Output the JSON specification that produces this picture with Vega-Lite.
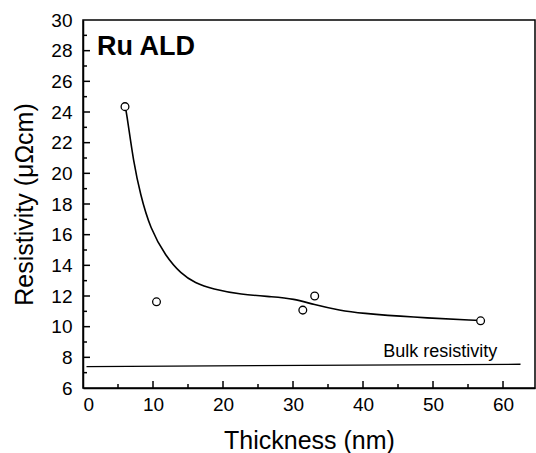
{
  "$schema": "https://vega.github.io/schema/vega-lite/v6.json",
  "width": 452,
  "height": 368,
  "autosize": {"type": "none"},
  "padding": {"left": 83, "top": 20, "right": 1, "bottom": 65},
  "background": "white",
  "config": {
    "font": "Liberation Sans",
    "view": {"stroke": "black", "strokeWidth": 1.5},
    "axis": {"grid": false, "domainColor": "black", "domainWidth": 1.5, "labelColor": "black", "titleColor": "black", "titleFontWeight": "normal", "labelFontSize": 19, "titleFontSize": 25}
  },
  "datasets": {
    "pts": [
      {"t": 6.0, "r": 24.35},
      {"t": 10.5, "r": 11.62},
      {"t": 31.4, "r": 11.08},
      {"t": 33.1, "r": 12.0},
      {"t": 56.8, "r": 10.38}
    ],
    "curve": [
      {"t": 6.1, "r": 24.2},
      {"t": 6.4, "r": 23.4},
      {"t": 7.2, "r": 20.8},
      {"t": 8.2, "r": 18.6},
      {"t": 9.6, "r": 16.4},
      {"t": 11.8, "r": 14.6},
      {"t": 14.0, "r": 13.45},
      {"t": 16.0, "r": 12.85},
      {"t": 18.5, "r": 12.45},
      {"t": 22.5, "r": 12.1},
      {"t": 27.2, "r": 11.95},
      {"t": 30.1, "r": 11.82},
      {"t": 32.9, "r": 11.45},
      {"t": 36.8, "r": 11.05},
      {"t": 39.6, "r": 10.88},
      {"t": 46.8, "r": 10.62},
      {"t": 56.8, "r": 10.4}
    ],
    "bulk": [
      {"t": 0.5, "r": 7.4},
      {"t": 62.5, "r": 7.55}
    ],
    "labels": [
      {"t": 2.0, "r": 27.75, "txt": "Ru ALD", "kind": "title"},
      {"t": 42.9, "r": 8.0, "txt": "Bulk resistivity", "kind": "note"}
    ],
    "xticks": [
      {"v": 10, "k": "major"}, {"v": 20, "k": "major"}, {"v": 30, "k": "major"}, {"v": 40, "k": "major"}, {"v": 50, "k": "major"}, {"v": 60, "k": "major"},
      {"v": 5, "k": "minor"}, {"v": 15, "k": "minor"}, {"v": 25, "k": "minor"}, {"v": 35, "k": "minor"}, {"v": 45, "k": "minor"}, {"v": 55, "k": "minor"}
    ],
    "yticks": [
      {"v": 8, "k": "major"}, {"v": 10, "k": "major"}, {"v": 12, "k": "major"}, {"v": 14, "k": "major"}, {"v": 16, "k": "major"}, {"v": 18, "k": "major"}, {"v": 20, "k": "major"}, {"v": 22, "k": "major"}, {"v": 24, "k": "major"}, {"v": 26, "k": "major"}, {"v": 28, "k": "major"},
      {"v": 7, "k": "minor"}, {"v": 9, "k": "minor"}, {"v": 11, "k": "minor"}, {"v": 13, "k": "minor"}, {"v": 15, "k": "minor"}, {"v": 17, "k": "minor"}, {"v": 19, "k": "minor"}, {"v": 21, "k": "minor"}, {"v": 23, "k": "minor"}, {"v": 25, "k": "minor"}, {"v": 27, "k": "minor"}, {"v": 29, "k": "minor"}
    ]
  },
  "resolve": {"axis": {"x": "independent", "y": "independent"}},
  "layer": [
    {
      "data": {"name": "curve"},
      "mark": {"type": "line", "interpolate": "basis", "color": "black", "strokeWidth": 1.6},
      "encoding": {
        "x": {"field": "t", "type": "quantitative", "scale": {"domain": [0, 64.57], "nice": false, "zero": false},
          "axis": {"orient": "bottom", "values": [0, 10, 20, 30, 40, 50, 60], "ticks": false, "labelPadding": 7, "title": "Thickness (nm)", "titleBaseline": "alphabetic", "titleY": 60}},
        "y": {"field": "r", "type": "quantitative", "scale": {"domain": [6, 30], "nice": false, "zero": false},
          "axis": {"orient": "left", "values": [6, 8, 10, 12, 14, 16, 18, 20, 22, 24, 26, 28, 30], "ticks": false, "labelPadding": 11, "title": "Resistivity (μΩcm)", "titleBaseline": "alphabetic", "titleX": -51}}
      }
    },
    {
      "data": {"name": "bulk"},
      "mark": {"type": "line", "color": "black", "strokeWidth": 1.3},
      "encoding": {
        "x": {"field": "t", "type": "quantitative", "axis": null},
        "y": {"field": "r", "type": "quantitative", "axis": null}
      }
    },
    {
      "data": {"name": "pts"},
      "mark": {"type": "point", "shape": "circle", "filled": false, "fill": "white", "fillOpacity": 1, "stroke": "black", "strokeWidth": 1.3, "size": 60, "opacity": 1},
      "encoding": {
        "x": {"field": "t", "type": "quantitative", "axis": null},
        "y": {"field": "r", "type": "quantitative", "axis": null}
      }
    },
    {
      "data": {"name": "labels"},
      "transform": [{"filter": "datum.kind === 'title'"}],
      "mark": {"type": "text", "align": "left", "baseline": "alphabetic", "fontSize": 27, "fontWeight": "bold", "color": "black"},
      "encoding": {
        "x": {"field": "t", "type": "quantitative", "axis": null},
        "y": {"field": "r", "type": "quantitative", "axis": null},
        "text": {"field": "txt"}
      }
    },
    {
      "data": {"name": "labels"},
      "transform": [{"filter": "datum.kind === 'note'"}],
      "mark": {"type": "text", "align": "left", "baseline": "alphabetic", "fontSize": 18, "color": "black"},
      "encoding": {
        "x": {"field": "t", "type": "quantitative", "axis": null},
        "y": {"field": "r", "type": "quantitative", "axis": null},
        "text": {"field": "txt"}
      }
    },
    {
      "data": {"name": "xticks"},
      "transform": [{"filter": "datum.k === 'major'"}],
      "mark": {"type": "tick", "orient": "vertical", "size": 7, "thickness": 1.5, "color": "black", "opacity": 1, "yOffset": -3.5},
      "encoding": {
        "x": {"field": "v", "type": "quantitative", "axis": null},
        "y": {"datum": 6, "type": "quantitative", "axis": null}
      }
    },
    {
      "data": {"name": "xticks"},
      "transform": [{"filter": "datum.k === 'minor'"}],
      "mark": {"type": "tick", "orient": "vertical", "size": 4, "thickness": 1.5, "color": "black", "opacity": 1, "yOffset": -2},
      "encoding": {
        "x": {"field": "v", "type": "quantitative", "axis": null},
        "y": {"datum": 6, "type": "quantitative", "axis": null}
      }
    },
    {
      "data": {"name": "yticks"},
      "transform": [{"filter": "datum.k === 'major'"}],
      "mark": {"type": "tick", "orient": "horizontal", "size": 7, "thickness": 1.5, "color": "black", "opacity": 1, "xOffset": 3.5},
      "encoding": {
        "y": {"field": "v", "type": "quantitative", "axis": null},
        "x": {"datum": 0, "type": "quantitative", "axis": null}
      }
    },
    {
      "data": {"name": "yticks"},
      "transform": [{"filter": "datum.k === 'minor'"}],
      "mark": {"type": "tick", "orient": "horizontal", "size": 4, "thickness": 1.5, "color": "black", "opacity": 1, "xOffset": 2},
      "encoding": {
        "y": {"field": "v", "type": "quantitative", "axis": null},
        "x": {"datum": 0, "type": "quantitative", "axis": null}
      }
    }
  ]
}
